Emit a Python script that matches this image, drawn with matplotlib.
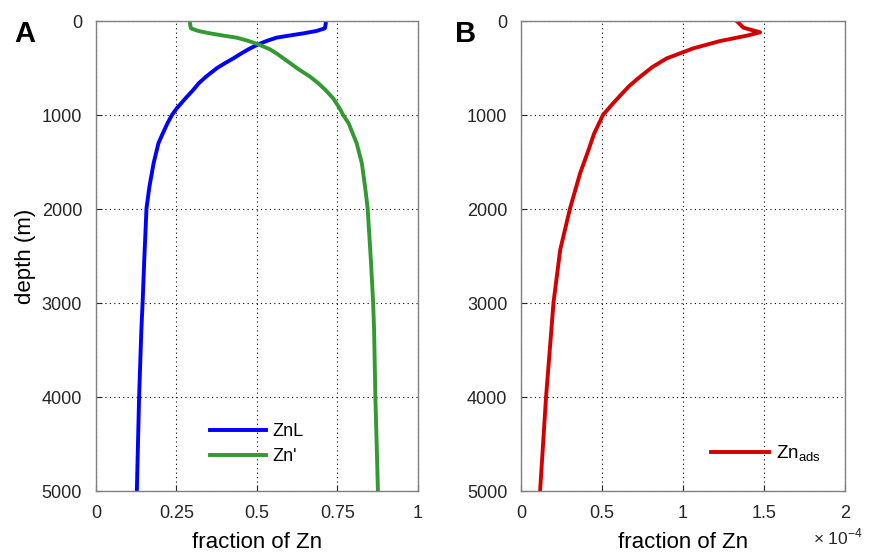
import numpy as np
import matplotlib.pyplot as plt
from matplotlib.ticker import FormatStrFormatter, FuncFormatter

plt.rcParams['font.family'] = ['Liberation Sans', 'DejaVu Sans']

# depth profiles (m) and Zn speciation fractions
depth_a = [0, 25, 78, 106, 131, 155, 177, 210, 248, 300, 354, 397, 450, 503, 592, 660,
           734, 823, 929, 1000, 1089, 1200, 1301, 1514, 1763, 1993, 2543, 2989, 3287,
           4000, 5000]
znl = [0.714, 0.714, 0.711, 0.685, 0.645, 0.600, 0.561, 0.532, 0.504, 0.474, 0.447,
       0.427, 0.400, 0.375, 0.342, 0.320, 0.302, 0.278, 0.251, 0.236, 0.222, 0.207,
       0.194, 0.179, 0.166, 0.157, 0.150, 0.145, 0.141, 0.134, 0.127]
zn_free = [0.292, 0.292, 0.295, 0.318, 0.354, 0.395, 0.437, 0.472, 0.504, 0.540, 0.565,
           0.582, 0.604, 0.625, 0.665, 0.690, 0.713, 0.737, 0.757, 0.768, 0.785, 0.798,
           0.810, 0.826, 0.836, 0.844, 0.854, 0.861, 0.864, 0.868, 0.876]

depth_b = [0, 71, 120, 156, 213, 290, 397, 490, 592, 690, 787, 900, 1000, 1200, 1372,
           1620, 1993, 2436, 2993, 3997, 5000]
zn_ads = [1.331e-4, 1.372e-4, 1.475e-4, 1.393e-4, 1.228e-4, 1.064e-4, 0.899e-4,
          0.810e-4, 0.735e-4, 0.668e-4, 0.615e-4, 0.555e-4, 0.505e-4, 0.450e-4,
          0.416e-4, 0.364e-4, 0.302e-4, 0.241e-4, 0.200e-4, 0.154e-4, 0.117e-4]

fig = plt.figure(figsize=(8.7, 5.56), dpi=100)
ax1 = fig.add_axes([0.1103, 0.1169, 0.370, 0.8453])
ax2 = fig.add_axes([0.599, 0.1169, 0.3724, 0.8453])

ax1.plot(znl, depth_a, color='#0000ff', lw=2.8, label='ZnL')
ax1.plot(zn_free, depth_a, color='#339a33', lw=2.8, label="Zn'")
ax1.set_xlim(0, 1)
ax1.set_xticks([0, 0.25, 0.5, 0.75, 1])
ax1.xaxis.set_major_formatter(FormatStrFormatter('%g'))
ax1.set_ylabel('depth (m)', fontsize=16, labelpad=4)

ax2.plot(zn_ads, depth_b, color='#d40000', lw=2.8, label='Zn$_{\\mathregular{ads}}$')
ax2.set_xlim(0, 2e-4)
ax2.set_xticks([0, 0.5e-4, 1e-4, 1.5e-4, 2e-4])
ax2.xaxis.set_major_formatter(FuncFormatter(lambda v, p: '%g' % round(v * 1e4, 3)))
# exponent label below the last tick
ax2.text(0.901, -0.098, '× 10$^{\\mathregular{-4}}$', transform=ax2.transAxes,
         ha='left', va='center', fontsize=12.5, color='#262626')

for ax in (ax1, ax2):
    ax.set_ylim(5000, 0)
    ax.set_yticks(range(0, 5001, 1000))
    ax.grid(True, color='black', ls=(0, (1, 3)), lw=0.8)
    ax.tick_params(direction='in', length=4, labelsize=13, colors='#262626')
    ax.tick_params(axis='x', pad=10)
    ax.tick_params(axis='y', pad=10)
    ax.set_xlabel('fraction of Zn', fontsize=16, labelpad=7)
    for s in ax.spines.values():
        s.set_color('#808080')
        s.set_linewidth(1.0)

ax1.legend(loc='center left', bbox_to_anchor=(0.354, 0.100), frameon=False,
           fontsize=13, handlelength=3.1, handletextpad=0.35, labelspacing=0.45,
           borderpad=0, borderaxespad=0)
ax2.legend(loc='center left', bbox_to_anchor=(0.586, 0.080), frameon=False,
           fontsize=13.5, handlelength=3.1, handletextpad=0.35,
           borderpad=0, borderaxespad=0)

fig.text(0.016, 0.925, 'A', fontsize=21, fontweight='bold')
fig.text(0.523, 0.925, 'B', fontsize=21, fontweight='bold')

fig.savefig('out.png', dpi=100)
